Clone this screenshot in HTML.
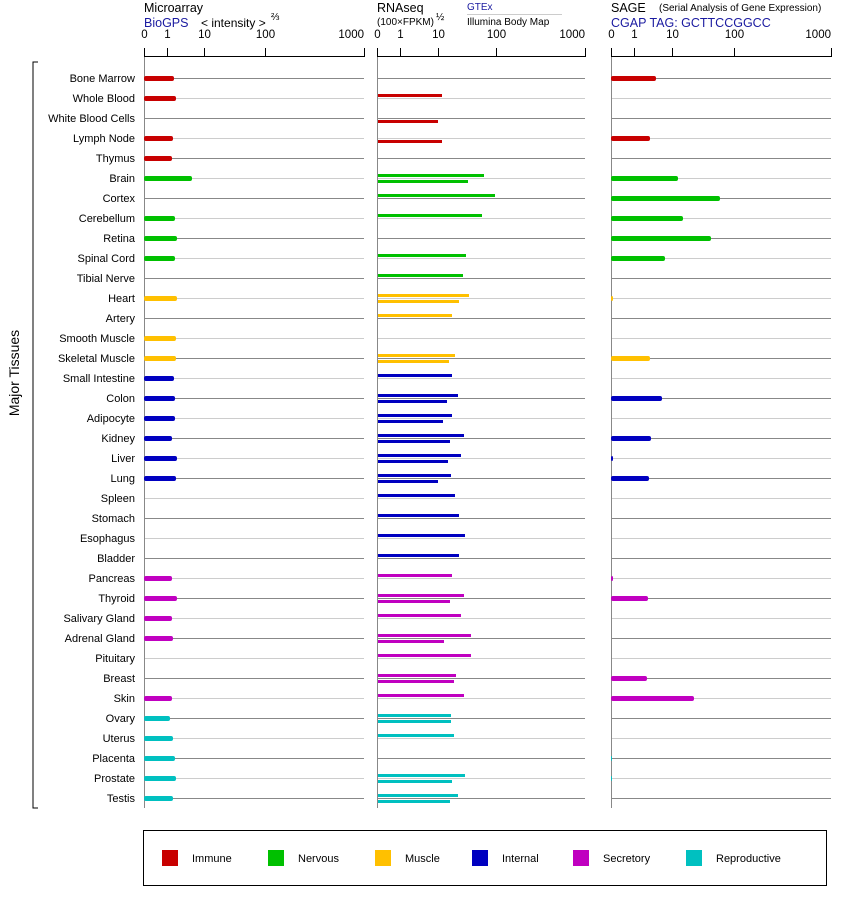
<!DOCTYPE html>
<html><head><meta charset="utf-8"><style>
html,body{margin:0;padding:0;background:#fff;}
svg{display:block;font-family:"Liberation Sans",Arial,sans-serif;}
</style></head><body>
<svg id="s" width="842" height="900" xmlns="http://www.w3.org/2000/svg">
<text x="144" y="12" font-size="12.5">Microarray</text>
<text x="144" y="27" font-size="12.5" fill="#1a1aa0">BioGPS</text>
<text x="201" y="27" font-size="12">&lt; intensity &gt;</text>
<text x="271" y="20" font-size="10">⅔</text>
<text x="377" y="12" font-size="12.5">RNAseq</text>
<text x="377" y="25" font-size="10">(100×FPKM)</text>
<text x="436" y="20" font-size="10">½</text>
<text x="467" y="10" font-size="10" fill="#1a1aa0">GTEx</text>
<line x1="467" y1="14.5" x2="562" y2="14.5" stroke="#ccc"/>
<text x="467" y="25" font-size="10">Illumina Body Map</text>
<text x="611" y="12" font-size="12.5">SAGE</text>
<text x="659" y="11" font-size="10">(Serial Analysis of Gene Expression)</text>
<text x="611" y="27" font-size="12.5" fill="#1a1aa0">CGAP TAG: GCTTCCGGCC</text>
<text transform="translate(19,373) rotate(-90)" font-size="14" text-anchor="middle">Major Tissues</text>
<path d="M38,62 H33 V808 H38" fill="none" stroke="#000"/>
<g id="g"></g>
<rect x="143.5" y="830.5" width="683" height="55" fill="none" stroke="#000"/>
</svg>
<script>
var g=document.getElementById('g'),h='';
var C={r:'#c80000',g:'#00c000',y:'#ffc000',b:'#0000c0',m:'#c000c0',c:'#00c0c0'};
var rows=[
["Bone Marrow","r",174,[],656],["Whole Blood","r",176,[[442,-3]],0],["White Blood Cells","r",0,[[438,3]],0],
["Lymph Node","r",173,[[442,3]],650],["Thymus","r",172,[],0],["Brain","g",192,[[484,-3],[468,3]],678],
["Cortex","g",0,[[495,-3]],720],["Cerebellum","g",175,[[482,-3]],683],["Retina","g",177,[],711],
["Spinal Cord","g",175,[[466,-3]],665],["Tibial Nerve","g",0,[[463,-3]],0],["Heart","y",177,[[469,-3],[459,3]],613],
["Artery","y",0,[[452,-3]],0],["Smooth Muscle","y",176,[],0],["Skeletal Muscle","y",176,[[455,-3],[449,3]],650],
["Small Intestine","b",174,[[452,-3]],0],["Colon","b",175,[[458,-3],[447,3]],662],["Adipocyte","b",175,[[452,-3],[443,3]],0],
["Kidney","b",172,[[464,-3],[450,3]],651],["Liver","b",177,[[461,-3],[448,3]],613],["Lung","b",176,[[451,-3],[438,3]],649],
["Spleen","b",0,[[455,-3]],0],["Stomach","b",0,[[459,-3]],0],["Esophagus","b",0,[[465,-3]],0],["Bladder","b",0,[[459,-3]],0],
["Pancreas","m",172,[[452,-3]],613],["Thyroid","m",177,[[464,-3],[450,3]],648],["Salivary Gland","m",172,[[461,-3]],0],
["Adrenal Gland","m",173,[[471,-3],[444,3]],0],["Pituitary","m",0,[[471,-3]],0],["Breast","m",0,[[456,-3],[454,3]],647],
["Skin","m",172,[[464,-3]],694],["Ovary","c",170,[[451,-3],[451,3]],0],["Uterus","c",173,[[454,-3]],0],
["Placenta","c",175,[],612],["Prostate","c",176,[[465,-3],[452,3]],612],["Testis","c",173,[[458,-3],[450,3]],0]];
var P=[[144,364,[[144,'0'],[167,'1'],[204,'10'],[265,'100'],[364,'1000']]],[377,585,[[377,'0'],[400,'1'],[438,'10'],[496,'100'],[585,'1000']]],[611,831,[[611,'0'],[634,'1'],[672,'10'],[734,'100'],[831,'1000']]]];
rows.forEach(function(r,i){var y=78+20*i,s=i%2?'#ccc':'#888';
 P.forEach(function(p){h+='<line x1="'+p[0]+'" x2="'+p[1]+'" y1="'+(y+.5)+'" y2="'+(y+.5)+'" stroke="'+s+'"/>';});
 h+='<text x="135" y="'+(y+4)+'" font-size="11" text-anchor="end">'+r[0]+'</text>';});
P.forEach(function(p){h+='<line x1="'+p[0]+'.5" x2="'+p[0]+'.5" y1="48" y2="808" stroke="#888"/>';
 h+='<line x1="'+p[0]+'" x2="'+(p[1]+1)+'" y1="56.5" y2="56.5" stroke="#000"/>';
 p[2].forEach(function(t){var a=t[1]=='1000'?'end':'middle',xx=t[1]=='1000'?t[0]:t[0]+.5;
  h+='<line x1="'+(t[0]+.5)+'" x2="'+(t[0]+.5)+'" y1="48" y2="57" stroke="#000"/><text x="'+xx+'" y="38" font-size="11.5" text-anchor="'+a+'">'+t[1]+'</text>';});});
rows.forEach(function(r,i){var y=78+20*i,c=C[r[1]];
 if(r[2])h+='<rect x="144" y="'+(y-2)+'" width="'+(r[2]-144)+'" height="5" rx="2" fill="'+c+'"/>';
 r[3].forEach(function(b){h+='<rect x="378" y="'+(y+b[1]-1)+'" width="'+(b[0]-378)+'" height="3" fill="'+c+'"/>';});
 if(r[4])h+='<rect x="611" y="'+(y-2)+'" width="'+(r[4]-611)+'" height="5" rx="2" fill="'+c+'"/>';});
var L=[["Immune",162,'r'],["Nervous",268,'g'],["Muscle",375,'y'],["Internal",472,'b'],["Secretory",573,'m'],["Reproductive",686,'c']];
L.forEach(function(l){h+='<rect x="'+l[1]+'" y="850" width="16" height="16" fill="'+C[l[2]]+'"/><text x="'+(l[1]+30)+'" y="862" font-size="11">'+l[0]+'</text>';});
g.innerHTML=h;
</script>
</body></html>
